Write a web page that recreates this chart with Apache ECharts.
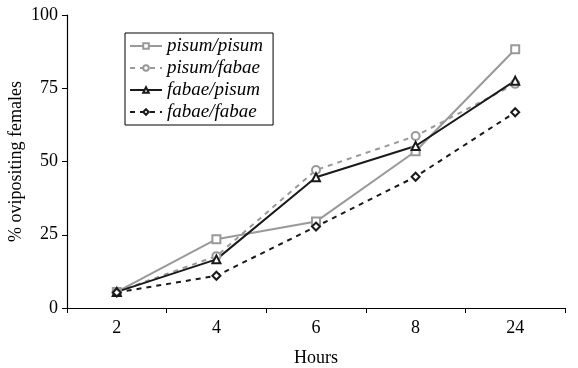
<!DOCTYPE html>
<html>
<head>
<meta charset="utf-8">
<script src="https://cdn.jsdelivr.net/npm/echarts@6/dist/echarts.min.js"></script>
<style>
  html, body { margin: 0; padding: 0; background: #fff; }
  #chart { width: 578px; height: 368px; }
</style>
</head>
<body>
<div id="chart"></div>
<script>
const hours = ['2', '4', '6', '8', '24']
const pisumPisum = [5.5, 23.5, 29.5, 53.5, 88.3]
const pisumFabae = [5.5, 17.7, 47.1, 58.7, 76.5]
const fabaePisum = [5.5, 16.6, 44.6, 55.3, 77.6]
const fabaeFabae = [5.3, 11.0, 27.8, 44.8, 66.8]
const yTicks = [0, 25, 50, 75, 100]

const serif = '"Liberation Serif", "DejaVu Serif", serif'
const grey = '#999999'
const black = '#1a1a1a'

const chart = echarts.init(document.getElementById('chart'))

const mkSeries = (name, data, color, dashed, symbol) => ({
  name,
  type: 'line',
  data,
  symbol,
  symbolSize: 8,
  showAllSymbol: true,
  itemStyle: { color, borderColor: color, borderWidth: 1.3 },
  lineStyle: { color, width: 2, type: dashed ? [5, 5] : 'solid' },
  emphasis: { disabled: true },
  z: 2,
})

chart.setOption({
  animation: false,
  backgroundColor: '#fff',
  grid: { left: 67, right: 13, top: 15, bottom: 60, outerBoundsMode: 'none', containLabel: false },
  legend: {
    orient: 'vertical',
    left: 125,
    top: 33,
    padding: [3, 10, 3, 4],
    itemGap: 2,
    itemWidth: 32,
    itemHeight: 7,
    borderColor: '#000',
    borderWidth: 1,
    textStyle: { fontFamily: serif, fontStyle: 'italic', fontSize: 19, color: '#000', lineHeight: 20 },
    data: ['pisum/pisum', 'pisum/fabae', 'fabae/pisum', 'fabae/fabae'],
  },
  xAxis: {
    type: 'category',
    data: hours,
    boundaryGap: true,
    name: 'Hours',
    nameLocation: 'middle',
    nameGap: 41,
    nameMoveOverlap: false,
    nameTextStyle: { fontFamily: serif, fontSize: 18, color: '#000' },
    axisLine: { lineStyle: { color: '#000', width: 1.2 } },
    axisTick: { show: true, inside: false, length: 5, lineStyle: { color: '#000' } },
    axisLabel: { fontFamily: serif, fontSize: 18, color: '#000', margin: 11 },
    splitLine: { show: false },
  },
  yAxis: {
    type: 'value',
    min: yTicks[0],
    max: yTicks[yTicks.length - 1],
    interval: 25,
    name: '% ovipositing females',
    nameLocation: 'middle',
    nameGap: 42,
    nameMoveOverlap: false,
    nameTextStyle: { fontFamily: serif, fontSize: 18, color: '#000' },
    axisLine: { show: true, lineStyle: { color: '#000', width: 1.2 } },
    axisTick: { show: true, length: 5, lineStyle: { color: '#000' } },
    axisLabel: { fontFamily: serif, fontSize: 18, color: '#000', margin: 9 },
    splitLine: { show: false },
  },
  series: [
    mkSeries('pisum/pisum', pisumPisum, grey, false, 'emptyRect'),
    mkSeries('pisum/fabae', pisumFabae, grey, true, 'emptyCircle'),
    mkSeries('fabae/pisum', fabaePisum, black, false, 'emptyTriangle'),
    mkSeries('fabae/fabae', fabaeFabae, black, true, 'emptyDiamond'),
  ],
})
</script>
</body>
</html>
